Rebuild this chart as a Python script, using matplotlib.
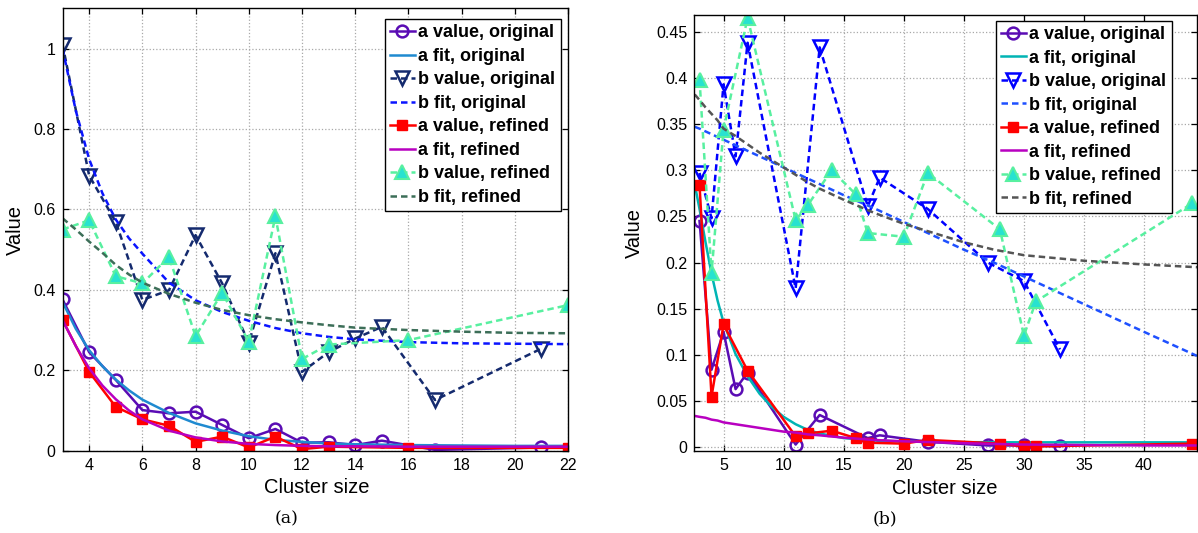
import matplotlib
matplotlib.use("Agg")
import matplotlib.pyplot as plt

plt.rcParams['font.family'] = ['Liberation Sans', 'DejaVu Sans']

# ---- panel (a) ----
lx_orig = [3, 4, 5, 6, 7, 8, 9, 10, 11, 12, 13, 14, 15, 17, 21]
la_orig = [0.376, 0.245, 0.176, 0.101, 0.093, 0.097, 0.064, 0.031, 0.054, 0.020, 0.021, 0.014, 0.025, 0.002, 0.008]
lb_orig = [1.01, 0.684, 0.569, 0.375, 0.399, 0.536, 0.416, 0.268, 0.491, 0.196, 0.245, 0.279, 0.308, 0.126, 0.254]
lx_ref = [3, 4, 5, 6, 7, 8, 9, 10, 11, 12, 13, 16, 22]
la_ref = [0.325, 0.196, 0.109, 0.078, 0.062, 0.022, 0.035, 0.008, 0.035, 0.004, 0.010, 0.007, 0.007]
lb_ref = [0.55, 0.573, 0.434, 0.416, 0.482, 0.285, 0.393, 0.271, 0.583, 0.228, 0.264, 0.275, 0.362]

lfit_x = [3, 3.5, 4, 4.5, 5, 5.5, 6, 7, 8, 9, 10, 11, 12, 13, 14, 16, 18, 20, 22]
la_fit_orig = [0.370, 0.303, 0.250, 0.210, 0.177, 0.150, 0.127, 0.094, 0.068, 0.050, 0.036, 0.027, 0.022, 0.018, 0.016, 0.014, 0.013, 0.012, 0.012]
lb_fit_orig = [1.000, 0.845, 0.725, 0.640, 0.575, 0.528, 0.490, 0.418, 0.374, 0.345, 0.323, 0.305, 0.292, 0.283, 0.277, 0.270, 0.267, 0.266, 0.265]
la_fit_ref = [0.325, 0.260, 0.205, 0.162, 0.128, 0.100, 0.078, 0.050, 0.033, 0.023, 0.017, 0.014, 0.012, 0.011, 0.011, 0.010, 0.010, 0.010, 0.010]
lb_fit_ref = [0.578, 0.550, 0.520, 0.492, 0.462, 0.438, 0.418, 0.390, 0.368, 0.350, 0.337, 0.327, 0.319, 0.312, 0.306, 0.300, 0.296, 0.293, 0.292]

# ---- panel (b) ----
rx_orig = [3, 4, 5, 6, 7, 11, 13, 17, 18, 22, 27, 30, 33]
ra_orig = [0.245, 0.084, 0.125, 0.063, 0.081, 0.003, 0.035, 0.010, 0.013, 0.006, 0.002, 0.002, 0.001]
rb_orig = [0.297, 0.248, 0.393, 0.315, 0.438, 0.172, 0.433, 0.261, 0.292, 0.258, 0.200, 0.180, 0.106]
rx_ref = [3, 4, 5, 7, 11, 12, 14, 16, 17, 20, 22, 28, 30, 31, 44]
ra_ref = [0.284, 0.055, 0.133, 0.083, 0.012, 0.015, 0.018, 0.010, 0.005, 0.004, 0.008, 0.004, 0.001, 0.001, 0.004]
rb_ref = [0.398, 0.189, 0.344, 0.465, 0.246, 0.262, 0.300, 0.274, 0.232, 0.228, 0.297, 0.236, 0.121, 0.158, 0.264]

rfit_x = [2.6, 3, 3.5, 4, 4.5, 5, 6, 7, 8, 9, 10, 11, 12, 13, 15, 17.5, 20, 25, 27.5, 30, 35, 40, 44.4]
ra_fit_orig = [0.285, 0.258, 0.222, 0.188, 0.159, 0.135, 0.101, 0.077, 0.058, 0.044, 0.033, 0.025, 0.019, 0.015, 0.010, 0.0075, 0.0062, 0.0056, 0.0055, 0.0054, 0.0054, 0.0054, 0.0054]
rb_fit_orig = [0.347, 0.345, 0.342, 0.339, 0.336, 0.333, 0.327, 0.321, 0.315, 0.309, 0.303, 0.297, 0.291, 0.285, 0.273, 0.259, 0.244, 0.214, 0.200, 0.185, 0.155, 0.125, 0.099]
ra_fit_ref = [0.034, 0.033, 0.032, 0.030, 0.029, 0.027, 0.025, 0.023, 0.021, 0.019, 0.017, 0.016, 0.014, 0.013, 0.0105, 0.008, 0.0065, 0.0045, 0.0037, 0.003, 0.0025, 0.002, 0.002]
rb_fit_ref = [0.382, 0.376, 0.368, 0.361, 0.354, 0.345, 0.337, 0.328, 0.319, 0.311, 0.303, 0.295, 0.287, 0.280, 0.268, 0.254, 0.242, 0.222, 0.214, 0.208, 0.202, 0.198, 0.195]

labels = ['a value, original', 'a fit, original', 'b value, original', 'b fit, original',
          'a value, refined', 'a fit, refined', 'b value, refined', 'b fit, refined']

LW = 1.8
DASH = (2.6, 1.6)


def draw(ax, x_o, a_o, b_o, x_r, a_r, b_r, fx, fa_o, fb_o, fa_r, fb_r, col):
    ax.plot(x_o, a_o, '-', color=col['ao'], lw=LW, marker='o', ms=8.5, mfc='none', mew=1.8)
    ax.plot(fx, fa_o, '-', color=col['fao'], lw=LW)
    ax.plot(x_o, b_o, '--', color=col['bo'], lw=LW, dashes=DASH, marker='v', ms=9.5, mfc='none', mew=1.8)
    ax.plot(fx, fb_o, '--', color=col['fbo'], lw=LW, dashes=DASH)
    ax.plot(x_r, a_r, '-', color='#ff0000', lw=LW, marker='s', ms=7.5, mfc='#ff0000', mec='#ff0000')
    ax.plot(fx, fa_r, '-', color=col['far'], lw=LW)
    ax.plot(x_r, b_r, '--', color='#58f0a0', lw=LW, dashes=DASH, marker='^', ms=9.5,
            mfc='#28e2d0', mec='#58f0a0', mew=1.5)
    ax.plot(fx, fb_r, '--', color=col['fbr'], lw=LW, dashes=DASH)

    ax.grid(True, ls=':', color='#a8a8a8', lw=0.9)
    ax.tick_params(direction='in', top=True, right=True, length=4, width=0.9, labelsize=11.5, pad=5)
    for s in ax.spines.values():
        s.set_linewidth(1.0)
    ax.set_xlabel('Cluster size', fontsize=14.5)
    ax.set_ylabel('Value', fontsize=14.5)


fig = plt.figure(figsize=(11.98, 5.33), dpi=100)

ax1 = fig.add_axes([0.0522, 0.1544, 0.422, 0.830])
draw(ax1, lx_orig, la_orig, lb_orig, lx_ref, la_ref, lb_ref,
     lfit_x, la_fit_orig, lb_fit_orig, la_fit_ref, lb_fit_ref,
     {'ao': '#5a0cb4', 'fao': '#1f8ad0', 'bo': '#142a6e', 'fbo': '#0a14ff',
      'far': '#b800c0', 'fbr': '#3c6e58'})
ax1.set_xlim(3, 22)
ax1.set_ylim(0, 1.1)
ax1.set_xticks([4, 6, 8, 10, 12, 14, 16, 18, 20, 22])
ax1.set_yticks([0, 0.2, 0.4, 0.6, 0.8, 1.0])
ax1.set_yticklabels(['0', '0.2', '0.4', '0.6', '0.8', '1'])
ax1.xaxis.set_label_coords(0.503, -0.062)
ax1.yaxis.set_label_coords(-0.074, 0.5)

ax2 = fig.add_axes([0.5795, 0.1538, 0.4196, 0.818])
draw(ax2, rx_orig, ra_orig, rb_orig, rx_ref, ra_ref, rb_ref,
     rfit_x, ra_fit_orig, rb_fit_orig, ra_fit_ref, rb_fit_ref,
     {'ao': '#5a0cb4', 'fao': '#00b4b4', 'bo': '#0000ff', 'fbo': '#1e50ff',
      'far': '#b800c0', 'fbr': '#555555'})
ax2.set_xlim(2.56, 44.4)
ax2.set_ylim(-0.004, 0.468)
ax2.set_xticks([5, 10, 15, 20, 25, 30, 35, 40])
ax2.set_yticks([0, 0.05, 0.1, 0.15, 0.2, 0.25, 0.3, 0.35, 0.4, 0.45])
ax2.set_yticklabels(['0', '0.05', '0.1', '0.15', '0.2', '0.25', '0.3', '0.35', '0.4', '0.45'])
ax2.xaxis.set_label_coords(0.499, -0.064)
ax2.yaxis.set_label_coords(-0.1, 0.5)

for ax, anchor in [(ax1, (0.468, 0.9644)), (ax2, (0.978, 0.961))]:
    leg = ax.legend(labels, loc='upper right', bbox_to_anchor=anchor, bbox_transform=fig.transFigure,
                    borderaxespad=0, fancybox=False, framealpha=1, edgecolor='black',
                    prop={'weight': 'bold', 'size': 13}, handlelength=1.35, handletextpad=0.2,
                    labelspacing=0.36, borderpad=0.3)
    leg.get_frame().set_linewidth(1.0)

fig.text(0.2396, 0.026, '(a)', family='DejaVu Serif', fontsize=12.5, ha='center', va='center')
fig.text(0.7387, 0.026, '(b)', family='DejaVu Serif', fontsize=12.5, ha='center', va='center')

fig.savefig('out.png', dpi=100)
